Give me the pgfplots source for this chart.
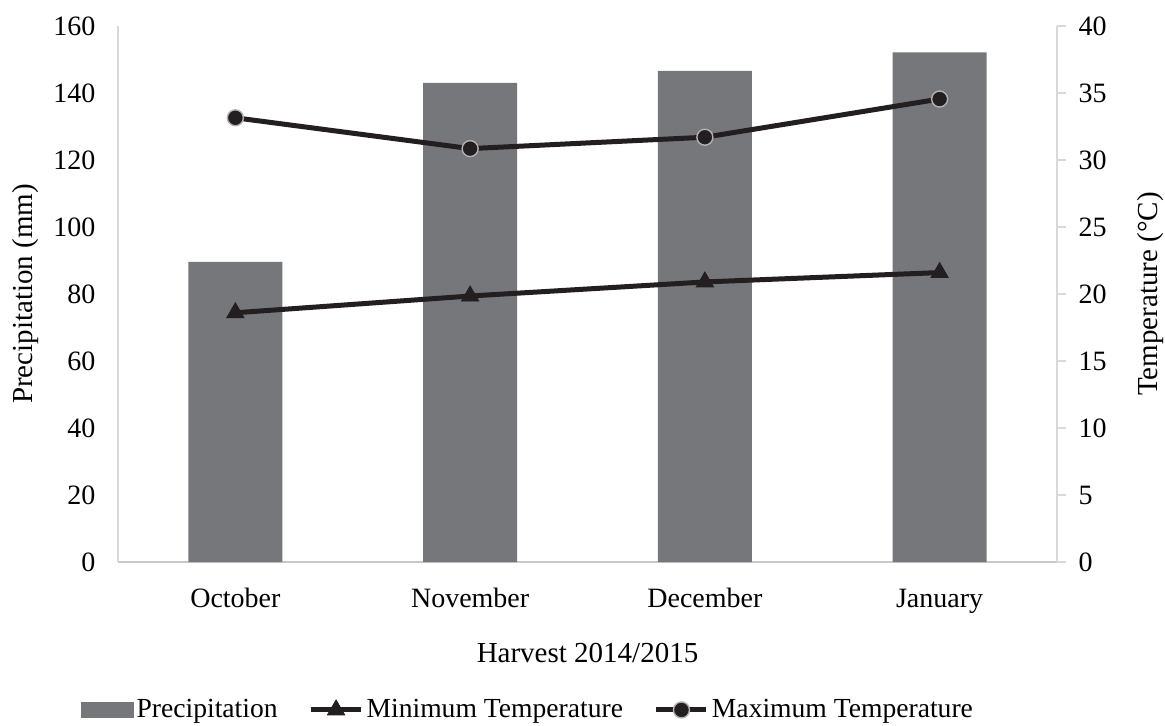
\documentclass[border=0pt]{standalone}
\usepackage{fontspec}
\setmainfont{Liberation Serif}
\usepackage{pgfplots}
\pgfplotsset{compat=1.18}
\definecolor{barcol}{RGB}{118,119,123}
\definecolor{linecol}{RGB}{35,31,32}
\definecolor{axcol}{RGB}{217,217,217}
\definecolor{botcol}{RGB}{200,200,200}
\begin{document}
\begin{tikzpicture}
\useasboundingbox (-59pt,-81.5pt) rectangle (523.5pt,281pt);
\begin{axis}[
  scale only axis, width=469.5pt, height=268pt,
  at={(0pt,0pt)}, anchor=south west,
  xmin=-0.5, xmax=3.5, ymin=0, ymax=160,
  xtick={0,1,2,3}, xticklabels={October,November,December,January},
  ytick={0,20,...,160},
  axis x line*=bottom, axis y line*=left,
  x axis line style={draw=botcol, line width=1pt, -},
  y axis line style={draw=axcol, line width=0.6pt, -},
  major tick length=0pt,
  /pgf/number format/assume math mode=true,
  tick label style={font=\fontsize{14}{14}\selectfont, text=black},
  xticklabel style={anchor=base, yshift=-22.5pt},
  yticklabel style={anchor=east, xshift=-7.8pt},
  ylabel={Precipitation (mm)}, xlabel={Harvest 2014/2015},
  label style={font=\fontsize{14.5}{14.5}\selectfont},
  ylabel style={at={(axis description cs:-0.099,0.5)}, anchor=center},
  xlabel style={at={(axis description cs:0.5,-0.1866)}, anchor=base},
]
\addplot[ybar, bar width=47pt, fill=barcol, draw=none] coordinates {(0,89.6) (1,143) (2,146.6) (3,152.1)};
\end{axis}
\begin{axis}[
  scale only axis, width=469.5pt, height=268pt,
  at={(0pt,0pt)}, anchor=south west,
  xmin=-0.5, xmax=3.5, ymin=0, ymax=40,
  axis x line=none, axis y line*=right,
  y axis line style={draw=axcol, line width=0.6pt, -},
  ytick={0,5,...,40},
  ytick style={draw=axcol, line width=0.6pt},
  major tick length=4.5pt, tick align=outside,
  /pgf/number format/assume math mode=true,
  tick label style={font=\fontsize{14}{14}\selectfont, text=black},
  yticklabel style={anchor=west, xshift=2.8pt},
  ylabel={Temperature (°C)},
  label style={font=\fontsize{14.5}{14.5}\selectfont},
  ylabel style={at={(axis description cs:1.1,0.5)}, anchor=center},
  legend style={at={(axis description cs:0.437,-0.276)}, anchor=center, draw=none, fill=none,
    legend columns=3, font=\fontsize{13.8}{13.8}\selectfont,
    /tikz/every odd column/.append style={column sep=0pt},
    /tikz/every even column/.append style={column sep=14pt},
    nodes={inner xsep=1.5pt}},
]
\addlegendimage{legend image code/.code={\fill[barcol] (-2pt,-3.8pt) rectangle (24pt,3.8pt);}}
\addlegendentry{Precipitation}
\addplot[linecol, line width=2.5pt, mark=triangle*, mark size=5pt,
  mark options={fill=linecol, draw=linecol, line width=0.4pt},
  legend image code/.code={\draw[mark repeat=2,mark phase=2] plot coordinates {(0pt,0pt) (12.5pt,0pt) (25pt,0pt)};}]
  coordinates {(0,18.6) (1,19.85) (2,20.9) (3,21.6)};
\addlegendentry{Minimum Temperature}
\addplot[linecol, line width=2.5pt, mark=*, mark size=4pt,
  mark options={fill=linecol, draw=black!30, line width=0.7pt},
  legend image code/.code={\draw[mark repeat=2,mark phase=2] plot coordinates {(0pt,0pt) (12.5pt,0pt) (25pt,0pt)};}]
  coordinates {(0,33.15) (1,30.85) (2,31.7) (3,34.55)};
\addlegendentry{Maximum Temperature}
\end{axis}
\end{tikzpicture}
\end{document}
